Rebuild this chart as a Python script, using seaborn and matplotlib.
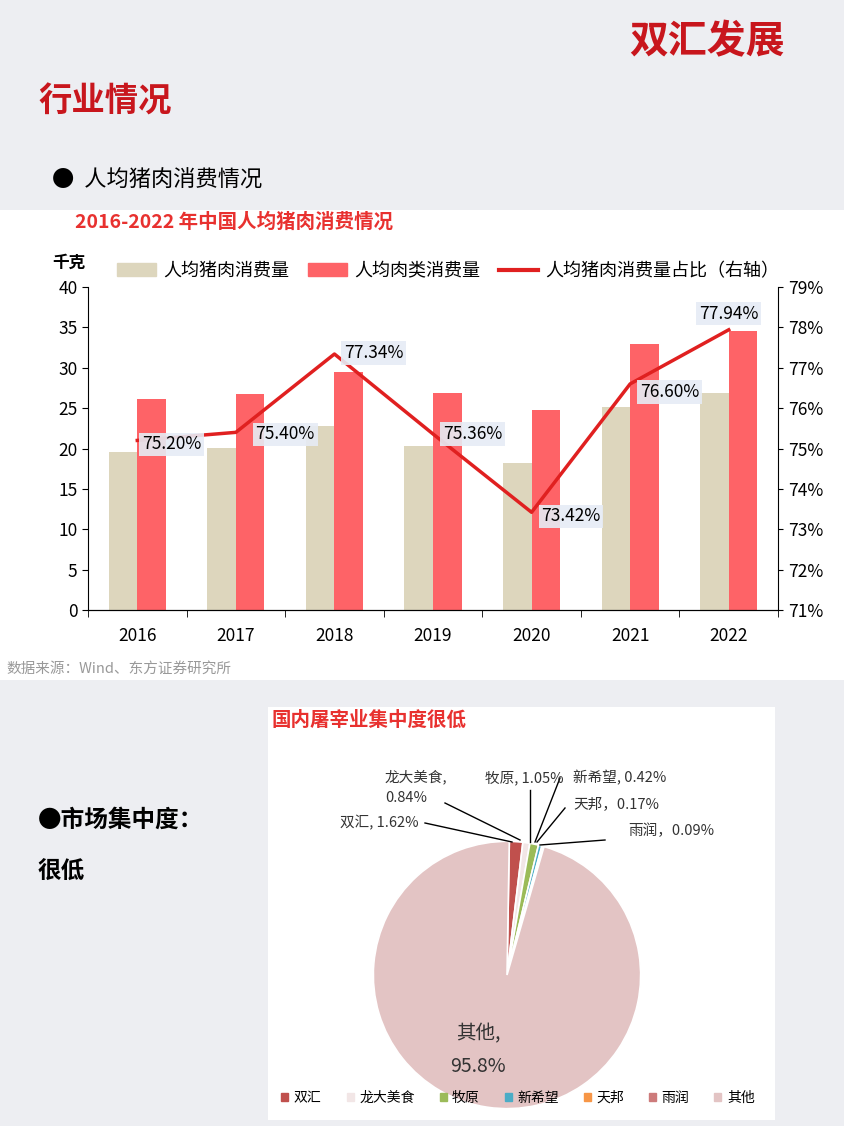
import matplotlib
matplotlib.use("Agg")
import matplotlib.pyplot as plt
import matplotlib.patches as mpatches
from matplotlib.lines import Line2D
import seaborn as sns
import pandas as pd

plt.rcParams["font.family"] = ["Noto Sans CJK SC", "DejaVu Sans"]

years = ["2016", "2017", "2018", "2019", "2020", "2021", "2022"]
pork = [19.6, 20.1, 22.8, 20.3, 18.2, 25.2, 26.9]
meat = [26.1, 26.7, 29.5, 26.9, 24.8, 32.9, 34.5]
share = [75.20, 75.40, 77.34, 75.36, 73.42, 76.60, 77.94]
series_names = ["人均猪肉消费量", "人均肉类消费量", "人均猪肉消费量占比（右轴）"]

pie_names = ["双汇", "龙大美食", "牧原", "新希望", "天邦", "雨润", "其他"]
pie_vals = [1.62, 0.84, 1.05, 0.42, 0.17, 0.09, 95.8]
pie_colors = ["#c0504d", "#f2e6e6", "#9bbb59", "#4bacc6", "#f79646", "#cd7b7b", "#e3c4c4"]

W, H = 845, 1126
fig = plt.figure(figsize=(W / 100, H / 100), dpi=100)
fig.patch.set_facecolor("#edeef2")

def box(x0, y0, x1, y1):
    fig.patches.append(mpatches.Rectangle((x0 / W, 1 - y1 / H), (x1 - x0) / W, (y1 - y0) / H,
                                          transform=fig.transFigure, facecolor="white",
                                          edgecolor="none", zorder=-10))

box(0, 210, 845, 680)
box(268, 707, 775, 1120)

fig.text(785 / W, 1 - 42 / H, "双汇发展", color="#c8161d", fontsize=28, fontweight="bold",
         ha="right", va="center")
fig.text(38 / W, 1 - 102 / H, "行业情况", color="#c8161d", fontsize=24, fontweight="bold",
         ha="left", va="center")
fig.text(52 / W, 1 - 180 / H, "●  人均猪肉消费情况", color="black", fontsize=16,
         ha="left", va="center")
fig.text(75 / W, 1 - 222 / H, "2016-2022 年中国人均猪肉消费情况", color="#e8312f",
         fontsize=14, fontweight="bold", ha="left", va="center")
fig.text(6 / W, 1 - 669 / H, "数据来源：Wind、东方证券研究所", color="#999999", fontsize=10.5,
         ha="left", va="center")
fig.text(52 / W, 1 - 263 / H, "千克", fontsize=12, fontweight="bold", ha="left", va="center")

# bar chart
ax = fig.add_axes([88 / W, 1 - 610 / H, 690 / W, 323 / H])
df = pd.DataFrame({"year": years * 2, "val": pork + meat,
                   "series": [series_names[0]] * 7 + [series_names[1]] * 7})
sns.barplot(data=df, x="year", y="val", hue="series", palette=["#ddd6bd", "#fe6367"],
            width=0.58, ax=ax, legend=False, saturation=1)
ax.set_ylim(0, 40)
ax.set_yticks(range(0, 41, 5))
ax.set_xlim(-0.5, 6.5)
ax.set_xlabel("")
ax.set_ylabel("")
for s in ["top", "right"]:
    ax.spines[s].set_visible(False)
ax.tick_params(axis="both", labelsize=12.5, length=4)
ax.tick_params(axis="x", length=0, pad=12)
ax.set_xticks([i + 0.5 for i in range(-1, 7)], minor=True)
ax.tick_params(axis="x", which="minor", length=5)
ax.set_facecolor("none")

ax2 = ax.twinx()
ax2.plot(range(7), share, color="#e02020", lw=2.5)
ax2.set_ylim(71, 79)
ax2.set_yticks(range(71, 80))
ax2.set_yticklabels([f"{v}%" for v in range(71, 80)])
ax2.tick_params(labelsize=12.5)
for s in ["top", "left"]:
    ax2.spines[s].set_visible(False)
offs = [(0.35, -0.1), (0.5, -0.05), (0.4, 0.02), (0.4, -0.0), (0.4, -0.1), (0.4, -0.2), (0.0, 0.4)]
for i, (v, (dx, dy)) in enumerate(zip(share, offs)):
    ax2.text(i + dx, v + dy, f"{v:.2f}%", fontsize=12.5, ha="center", va="center",
             bbox=dict(facecolor="#e6ecf5", edgecolor="none", pad=2, alpha=0.9))

handles = [mpatches.Patch(color="#ddd6bd"), mpatches.Patch(color="#fe6367"),
           Line2D([], [], color="#e02020", lw=3)]
fig.legend(handles, series_names, loc="center", bbox_to_anchor=(448 / W, 1 - 271 / H),
           ncol=3, frameon=False, fontsize=13, handlelength=2.2, columnspacing=1.0,
           handletextpad=0.4)

# left text
fig.text(38 / W, 1 - 820 / H, "●市场集中度：", fontsize=17, fontweight="bold", ha="left", va="center")
fig.text(38 / W, 1 - 872 / H, "很低", fontsize=17, fontweight="bold", ha="left", va="center")

fig.text(272 / W, 1 - 720 / H, "国内屠宰业集中度很低", color="#e8312f", fontsize=14,
         fontweight="bold", ha="left", va="center")

# pie
pax = fig.add_axes([372 / W, 1 - 1110 / H, 270 / W, 270 / H])
wedges, _ = pax.pie(pie_vals, colors=pie_colors, startangle=89, counterclock=False,
                    wedgeprops=dict(edgecolor="white", linewidth=1.2))
pax.set_xlim(-1.01, 1.01)
pax.set_ylim(-1.01, 1.01)
pax.set_aspect("equal")

def fpt(x, y):
    return (x / W, 1 - y / H)

ann = [
    ("双汇, 1.62%", (340, 823), (512, 842), "left", (425, 823)),
    ("龙大美食,\n0.84%", (385, 787), (520, 840), "left", (445, 803)),
    ("牧原, 1.05%", (485, 778), (530, 842), "left", (530, 790)),
    ("新希望, 0.42%", (573, 778), (535, 842), "left", (560, 778)),
    ("天邦，0.17%", (573, 804), (537, 842), "left", (565, 808)),
    ("雨润，0.09%", (628, 831), (540, 845), "left", (605, 840)),
]
for txt, tpos, apos, ha, lpos in ann:
    fig.text(*fpt(*tpos), txt, fontsize=10.5, ha=ha, va="center", color="#333333",
             linespacing=1.6)
    fig.lines.append(Line2D([lpos[0] / W, apos[0] / W], [1 - lpos[1] / H, 1 - apos[1] / H],
                            transform=fig.transFigure, color="black", lw=1))
fig.text(*fpt(478, 1050), "其他,\n95.8%", fontsize=14, ha="center", va="center",
         color="#333333", linespacing=1.7, zorder=5)

lh = [mpatches.Patch(color=c) for c in pie_colors]
fig.legend(lh, pie_names, loc="center", bbox_to_anchor=(518 / W, 1 - 1098 / H), ncol=7,
           frameon=False, fontsize=10, handlelength=0.5, handleheight=0.5,
           columnspacing=1.8, handletextpad=0.4)

fig.savefig("out.png", dpi=100, facecolor=fig.get_facecolor())
